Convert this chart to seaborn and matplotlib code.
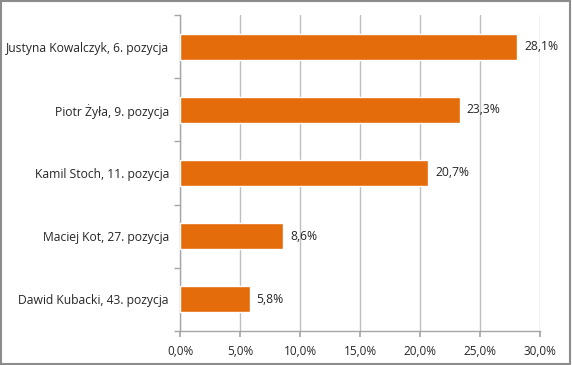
import matplotlib
matplotlib.use("Agg")
import matplotlib.pyplot as plt
import seaborn as sns
import pandas as pd
import numpy as np
from matplotlib.ticker import FixedLocator, FuncFormatter
from matplotlib.patches import Rectangle

categories = ["Justyna Kowalczyk, 6. pozycja", "Piotr Żyła, 9. pozycja",
              "Kamil Stoch, 11. pozycja", "Maciej Kot, 27. pozycja",
              "Dawid Kubacki, 43. pozycja"]
values = [28.1, 23.3, 20.7, 8.6, 5.8]

df = pd.DataFrame({"name": categories, "value": values})

sns.set_theme(style="white")
plt.rcParams['font.family'] = ['Open Sans', 'DejaVu Sans']

fig = plt.figure(figsize=(5.72, 3.65), dpi=100)
ax = fig.add_axes([180/572, 1-331/365, 360/572, 316/365])

sns.barplot(data=df, x="value", y="name", orient="h", color="#E46C0A",
            saturation=1, width=0.41, ax=ax, zorder=3)

ax.set_xlim(0, 30)
ax.set_ylim(4.5, -0.5)
ax.set_xticks(np.arange(0, 31, 5))
ax.xaxis.set_major_formatter(FuncFormatter(lambda v, p: f"{v:.1f}%".replace(".", ",")))
ax.grid(axis="x", color="#BFBFBF", linewidth=1, zorder=0)
ax.set_axisbelow(True)
ax.set_xlabel("")
ax.set_ylabel("")

for s in ["top", "right"]:
    ax.spines[s].set_visible(False)
for s in ["left", "bottom"]:
    ax.spines[s].set_color("#A6A6A6")
    ax.spines[s].set_linewidth(1)

ax.tick_params(axis="x", which="major", direction="out", length=4, color="#A6A6A6",
               labelsize=8.5, labelcolor="#262626", pad=6, bottom=True)
ax.tick_params(axis="y", which="major", length=0, labelsize=8.7, labelcolor="#262626", pad=8)
ax.yaxis.set_minor_locator(FixedLocator(np.arange(-0.5, 4.6, 1)))
ax.tick_params(axis="y", which="minor", direction="out", length=4, color="#A6A6A6", left=True)

for c in ax.containers:
    ax.bar_label(c, labels=[f"{v:.1f}%".replace(".", ",") for v in values],
                 padding=5, fontsize=8.7, color="#262626")

fig.patches.append(Rectangle((0.002, 0.003), 0.995, 0.993, transform=fig.transFigure,
                             fill=False, edgecolor="#8C8C8C", linewidth=1.5))

fig.savefig("out.png", dpi=100)
